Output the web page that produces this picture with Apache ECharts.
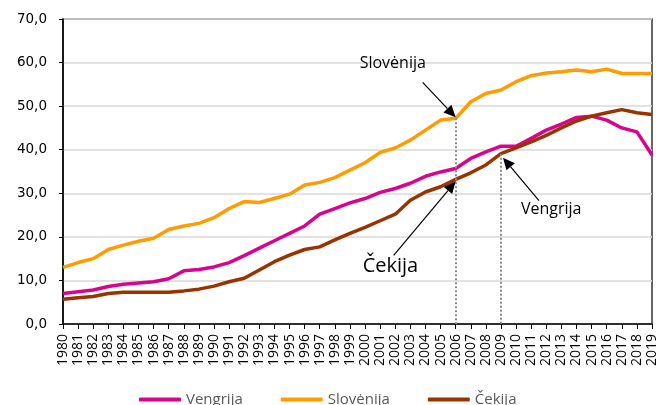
<!DOCTYPE html>
<html>
<head>
<meta charset="utf-8">
<script src="https://cdn.jsdelivr.net/npm/echarts@6/dist/echarts.min.js"></script>
<style>
  html, body { margin: 0; padding: 0; background: #fff; }
  #container { width: 665px; height: 405px; }
</style>
</head>
<body>
<div id="container"></div>
<script>
var years = [];
for (var y = 1980; y <= 2019; y++) years.push(String(y));

var vengrija = [7.0, 7.4, 7.8, 8.6, 9.1, 9.4, 9.7, 10.4, 12.2, 12.5,
  13.1, 14.1, 15.7, 17.4, 19.1, 20.8, 22.5, 25.2, 26.5, 27.8,
  28.8, 30.2, 31.1, 32.3, 33.9, 34.9, 35.7, 38.0, 39.5, 40.8,
  40.8, 42.6, 44.5, 45.9, 47.4, 47.7, 46.8, 45.0, 44.1, 38.8];
var slovenija = [13.0, 14.1, 15.0, 17.1, 18.1, 19.0, 19.7, 21.7, 22.5, 23.1,
  24.4, 26.5, 28.1, 27.9, 28.8, 29.8, 31.9, 32.5, 33.6, 35.3,
  37.0, 39.4, 40.4, 42.2, 44.5, 46.8, 47.2, 51.0, 52.9, 53.7,
  55.6, 57.0, 57.6, 57.9, 58.3, 57.9, 58.5, 57.5, 57.5, 57.5];
var cekija = [5.7, 6.0, 6.3, 7.0, 7.3, 7.3, 7.3, 7.3, 7.6, 8.0,
  8.7, 9.7, 10.5, 12.4, 14.3, 15.8, 17.1, 17.7, 19.3, 20.8,
  22.2, 23.7, 25.2, 28.4, 30.3, 31.5, 33.2, 34.7, 36.5, 39.1,
  40.4, 41.8, 43.3, 45.0, 46.6, 47.7, 48.5, 49.2, 48.5, 48.1];

var fontFam = "'Open Sans', sans-serif";
var dotted = { type: 'dotted', color: '#8c8c8c', width: 2 };

var chart = echarts.init(document.getElementById('container'));
var option = {
  animation: false,
  textStyle: { fontFamily: fontFam },
  grid: {
    left: 63, right: 13, top: 19, bottom: 81,
    show: true, borderColor: '#333', borderWidth: 1.5
  },
  legend: {
    left: 134, top: 387,
    itemWidth: 42, itemHeight: 4, itemGap: 38,
    icon: 'roundRect',
    textStyle: { fontSize: 15, color: '#595959', fontFamily: fontFam },
    data: ['Vengrija', 'Slovėnija', 'Čekija']
  },
  xAxis: {
    type: 'category',
    data: years,
    boundaryGap: false,
    axisLine: { lineStyle: { color: '#000', width: 1.5 } },
    axisTick: { show: true, length: 5, interval: 0, lineStyle: { color: '#000' } },
    axisLabel: { rotate: 90, interval: 0, fontSize: 14, color: '#000', margin: 10 },
    splitLine: { show: false }
  },
  yAxis: {
    type: 'value',
    min: 0, max: 70, interval: 10,
    axisLine: { show: true, lineStyle: { color: '#000', width: 1.5 } },
    axisTick: { show: true, length: 4, lineStyle: { color: '#000' } },
    axisLabel: {
      fontSize: 13.5, color: '#000', margin: 16, fontFamily: "'DejaVu Sans', sans-serif",
      formatter: function (v) { return v.toFixed(1).replace('.', ','); }
    },
    splitLine: { lineStyle: { color: '#d9d9d9', width: 1.5 } }
  },
  series: [
    {
      name: 'Vengrija', type: 'line', data: vengrija,
      showSymbol: false, color: '#d9048e',
      lineStyle: { width: 3.5 }
    },
    {
      name: 'Slovėnija', type: 'line', data: slovenija,
      showSymbol: false, color: '#ff9c00',
      lineStyle: { width: 3.5 },
      markLine: {
        silent: true, symbol: ['none', 'none'], label: { show: false },
        data: [
          [{ coord: ['2006', 47.2], lineStyle: dotted }, { coord: ['2006', 0] }],
          [{ coord: ['2009', 39.1], lineStyle: dotted }, { coord: ['2009', 0] }]
        ]
      }
    },
    {
      name: 'Čekija', type: 'line', data: cekija,
      showSymbol: false, color: '#993300',
      lineStyle: { width: 3.5 },
      z: 3
    }
  ],
  graphic: []
};
chart.setOption(option);

// arrows from the labels to the points, placed by the chart's own scale
function px(cat, val) { return chart.convertToPixel({ gridIndex: 0 }, [cat, val]); }
function arrow(from, to) {
  var dx = to[0] - from[0], dy = to[1] - from[1];
  var len = Math.sqrt(dx * dx + dy * dy);
  var ux = dx / len, uy = dy / len;
  var hl = 12, hw = 5.5;
  var bx = to[0] - ux * hl, by = to[1] - uy * hl;
  return [
    { type: 'line', shape: { x1: from[0], y1: from[1], x2: bx, y2: by },
      style: { stroke: '#000', lineWidth: 1.2 }, z: 10 },
    { type: 'polygon', shape: { points: [to, [bx - uy * hw, by + ux * hw], [bx + uy * hw, by - ux * hw]] },
      style: { fill: '#000' }, z: 10 }
  ];
}
var pSlo = px('2006', 47.2);
var pCz = px('2006', 33.2);
var pHu = px('2009', 39.1);
var g = [];
g = g.concat(arrow([pSlo[0] - 33, pSlo[1] - 36], [pSlo[0], pSlo[1] - 1]));
g = g.concat(arrow([pCz[0] - 62, pCz[1] + 76], [pCz[0], pCz[1] + 2]));
g = g.concat(arrow([pHu[0] + 38, pHu[1] + 47], [pHu[0] + 2, pHu[1] + 4]));
g.push({ type: 'text', left: pSlo[0] - 96, top: pSlo[1] - 63,
  style: { text: 'Slovėnija', font: '16px ' + fontFam, fill: '#000' }, z: 10 });
g.push({ type: 'text', left: pCz[0] - 93, top: pCz[1] + 77,
  style: { text: 'Čekija', font: '20px ' + fontFam, fill: '#000' }, z: 10 });
g.push({ type: 'text', left: pHu[0] + 20, top: pHu[1] + 48,
  style: { text: 'Vengrija', font: '16px ' + fontFam, fill: '#000' }, z: 10 });
chart.setOption({ graphic: g });
</script>
</body>
</html>
